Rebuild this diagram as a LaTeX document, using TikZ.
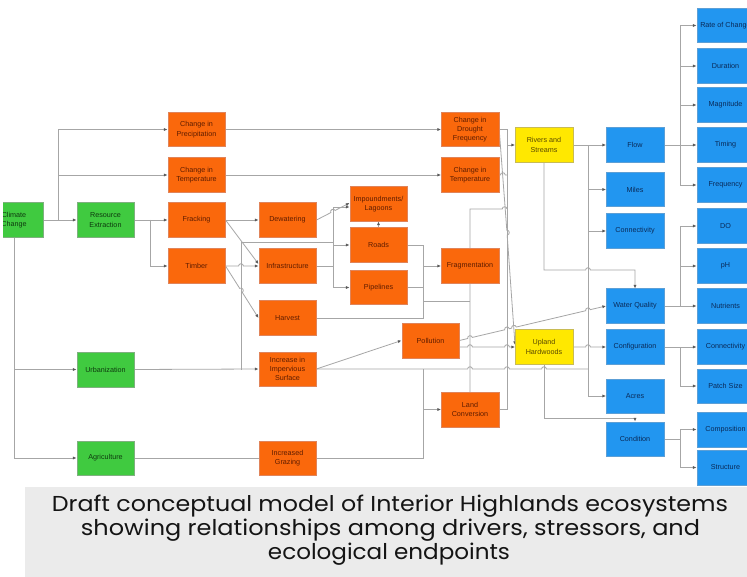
\documentclass[tikz,border=0pt]{standalone}
\usepackage{fontspec}
\usepackage{graphicx}
\setmainfont{Liberation Sans}
\newfontfamily\capfont{Poppins}
\usetikzlibrary{arrows.meta}
\definecolor{cgreen}{HTML}{40CA40}
\definecolor{cgreenD}{HTML}{7FB07F}
\definecolor{tgreen}{HTML}{0E3A0E}
\definecolor{corange}{HTML}{FA680C}
\definecolor{corangeD}{HTML}{E0845A}
\definecolor{torange}{HTML}{5E1C00}
\definecolor{cyellow}{HTML}{FFE800}
\definecolor{cyellowD}{HTML}{C8BB55}
\definecolor{tyellow}{HTML}{5A4A00}
\definecolor{cblue}{HTML}{2296F0}
\definecolor{cblueD}{HTML}{5C9FD6}
\definecolor{tblue}{HTML}{0A2A58}
\definecolor{lgray}{HTML}{A6A6A6}
\definecolor{arrc}{HTML}{5A5A5A}
\definecolor{capbg}{HTML}{EBEBEB}
\pgfdeclarelayer{bg}
\pgfsetlayers{bg,main}
\newcommand\dhop[4]{-- ({#1-2.4*(#3)},{#2-2.4*(#4)}) .. controls ({#1-2.4*(#3)+3*(#4)},{#2-2.4*(#4)-3*(#3)}) and ({#1+2.4*(#3)+3*(#4)},{#2+2.4*(#4)-3*(#3)}) .. ({#1+2.4*(#3)},{#2+2.4*(#4)})}
\tikzset{
  box/.style={rectangle, minimum width=57.5pt, minimum height=34.5pt, inner sep=1pt,
    align=center, font=\fontsize{7.2}{9.3}\selectfont, line width=0.5pt},
  gbox/.style={box, fill=cgreen, draw=cgreenD, text=tgreen},
  obox/.style={box, fill=corange, draw=corangeD, text=torange},
  ybox/.style={box, fill=cyellow, draw=cyellowD, text=tyellow},
  bbox/.style={box, fill=cblue, draw=cblueD, text=tblue},
  conn/.style={draw=lgray, line width=0.8pt},
  arr/.style={conn, -{Latex[length=3.6pt,width=3.2pt,color=arrc]}},
}
\begin{document}
\begin{tikzpicture}[x=1pt,y=-1pt]
\useasboundingbox (0,0) rectangle (747,577);
% drivers
\begin{scope}
\clip (3,150) rectangle (60,300);
\node[gbox] (cc) at (14,220) {Climate\\Change};
\end{scope}
\node[gbox] (re) at (105.5,220) {Resource\\Extraction};
\node[gbox] (urb) at (105.5,369.5) {Urbanization};
\node[gbox] (agr) at (105.5,458) {Agriculture};
% stressors
\node[obox] (prec) at (196.5,129.5) {Change in\\Precipitation};
\node[obox] (temp1) at (196.5,175) {Change in\\Temperature};
\node[obox] (frac) at (196.5,220) {Fracking};
\node[obox] (timb) at (196.5,266) {Timber};
\node[obox] (dew) at (287.5,220) {Dewatering};
\node[obox] (infra) at (287.5,266) {Infrastructure};
\node[obox] (harv) at (287.5,318) {Harvest};
\node[obox] (imperv) at (287.5,369) {Increase in\\Impervious\\Surface};
\node[obox] (graz) at (287.5,458) {Increased\\Grazing};
\node[obox] (imp) at (378.5,204) {Impoundments/\\Lagoons};
\node[obox] (roads) at (378.5,245) {Roads};
\node[obox] (pipe) at (378.5,287.5) {Pipelines};
\node[obox] (poll) at (430.5,340.5) {Pollution};
\node[obox] (drought) at (470,129.5) {Change in\\Drought\\Frequency};
\node[obox] (temp2) at (470,175) {Change in\\Temperature};
\node[obox] (frag) at (470,266) {Fragmentation};
\node[obox] (landc) at (470,409.5) {Land\\Conversion};
% systems
\node[ybox] (riv) at (544,145) {Rivers and\\Streams};
\node[ybox] (upl) at (544,347) {Upland\\Hardwoods};
% endpoints
\node[bbox] (flow) at (635,145) {Flow};
\node[bbox] (miles) at (635,189.5) {Miles};
\node[bbox] (conn1) at (635,231) {Connectivity};
\node[bbox] (wq) at (635,306) {Water Quality};
\node[bbox] (config) at (635,347) {Configuration};
\node[bbox] (acres) at (635,396) {Acres};
\node[bbox] (cond) at (635,439) {Condition};
\node[bbox] (roc) at (725.5,25.5) {Rate of Change};
\node[bbox] (dur) at (725.5,66) {Duration};
\node[bbox] (mag) at (725.5,105) {Magnitude};
\node[bbox] (tim) at (725.5,145) {Timing};
\node[bbox] (freq) at (725.5,185) {Frequency};
\node[bbox] (dox) at (725.5,226) {DO};
\node[bbox] (ph) at (725.5,266) {pH};
\node[bbox] (nut) at (725.5,306) {Nutrients};
\node[bbox] (conn2) at (725.5,347) {Connectivity};
\node[bbox] (patch) at (725.5,386) {Patch Size};
\node[bbox] (comp) at (725.5,429.5) {Composition};
\node[bbox] (struct) at (725.5,467.5) {Structure};

\begin{pgfonlayer}{bg}
\fill[white] (0,0) rectangle (747,577);
\coordinate (j1) at (58,220);
\coordinate (j2) at (150,220);
\coordinate (j3) at (333,266);
\coordinate (j4) at (423,266);
\coordinate (j5) at (507,129.5);
\coordinate (j6) at (588,145);
\draw[arr] (cc.east) -- (re.west);
\draw[arr] (j1) |- (prec.west);
\draw[arr] (j1) |- (temp1.west);
\draw[arr] (cc.south) |- (agr.west);
\draw[arr] (cc.south |- urb.west) -- (urb.west);
\draw[arr] (re.east) -- (frac.west);
\draw[arr] (j2) |- (timb.west);
\draw[arr] (prec.east) -- (drought.west);
\draw[arr] (temp1.east) -- (temp2.west);
\draw[arr] (frac.east) -- (dew.west);
\draw[arr] (frac.east) -- ([yshift=2pt]infra.west);
\draw[arr] (timb.east) \dhop{241}{266}{1}{0} -- (infra.west);
\draw[arr] (timb.east) \dhop{241}{290.4}{0.5416}{0.8406} -- (harv.west);
\draw[arr] (urb.east) -- (imperv.west);
\draw[conn] (241,369.5) -- (241,242) -- (333,242);
\draw[conn] (infra.east) -- (j3);
\draw[arr] (j3) |- ([yshift=-3pt]imp.west);
\draw[arr] (j3) |- (roads.west);
\draw[arr] (j3) |- (pipe.west);
\draw[arr] (dew.east) \dhop{333}{211.5}{0.8918}{-0.4526} -- ([yshift=1pt]imp.west);
\draw[arr] (roads.north) -- (imp.south);
\draw[conn] (roads.east) -| (j4);
\draw[conn] (pipe.east) -| (j4);
\draw[conn] (harv.east) -| (j4);
\draw[arr] (j4) -- (frag.west);
\draw[conn] (423,301) -- (470,301);
\draw[conn] (landc.north) -- (470,209) \dhop{504.6}{209}{1}{0} -- (507,209);
\draw[conn] (drought.east) -- (j5) -- (507,409.5) -- (landc.east);
\draw[arr] (507,145) -- (riv.west);
\draw[conn] (temp2.east) \dhop{502.8}{175}{1}{0} -- (507,175);
\draw[arr] ([yshift=2.5pt]drought.east) \dhop{507}{232.6}{0.0732}{0.9973} -- ([yshift=2pt]upl.west);
\draw[arr] (poll.east) \dhop{470}{337.97}{0.9733}{-0.2292} \dhop{507}{329.25}{0.9733}{-0.2292} \dhop{514}{327.6}{0.9733}{-0.2292} \dhop{588}{310.18}{0.9733}{-0.2292} -- (wq.west);
\draw[arr] ([yshift=-6.5pt]poll.east) \dhop{470}{347}{1}{0} \dhop{507}{347}{1}{0} -- (upl.west);
\draw[conn] (imperv.east) \dhop{470}{369}{1}{0} \dhop{507}{369}{1}{0} \dhop{544}{369}{1}{0} -- (588,369);
\draw[arr] (imperv.east) -- (poll.west);
\draw[arr] (423,369) |- (landc.west);
\draw[conn] (graz.east) -| (423,409.5);
\draw[conn] (agr.east) -- (graz.west);
\draw[conn] (riv.east) -- (j6) -- (588,396);
\draw[arr] (j6) -- (flow.west);
\draw[arr] (588,189.5) -- (miles.west);
\draw[arr] (588,231) -- (conn1.west);
\draw[arr] (588,396) -- (acres.west);
\draw[arr] (riv.south) -- (544,270) \dhop{588}{270}{1}{0} -| (wq.north);
\draw[arr] (upl.east) \dhop{588}{347}{1}{0} -- (config.west);
\draw[arr] (upl.south) -- (544,418) -| (cond.north);
\draw[conn] (flow.east) -- (680,145);
\foreach \n in {roc,dur,mag,tim,freq} \draw[arr] (680,145) |- (\n.west);
\draw[conn] (wq.east) -- (680,306);
\foreach \n in {dox,ph,nut} \draw[arr] (680,306) |- (\n.west);
\draw[conn] (config.east) -- (680,347);
\foreach \n in {conn2,patch} \draw[arr] (680,347) |- (\n.west);
\draw[conn] (cond.east) -- (680,439);
\foreach \n in {comp,struct} \draw[arr] (680,439) |- (\n.west);
\end{pgfonlayer}

% caption
\fill[capbg] (25,487) rectangle (747,577);
\node[anchor=base, inner sep=0pt, text=black!92] (cap1) at (390,511) {\resizebox{676pt}{16.5pt}{\capfont Draft conceptual model of Interior Highlands ecosystems}};
\node[anchor=base, inner sep=0pt, text=black!92] (cap2) at (390.5,535) {\resizebox{619pt}{16.5pt}{\capfont showing relationships among drivers, stressors, and}};
\node[anchor=base, inner sep=0pt, text=black!92] (cap3) at (389,559) {\resizebox{242pt}{16.5pt}{\capfont ecological endpoints}};
\end{tikzpicture}
\end{document}
